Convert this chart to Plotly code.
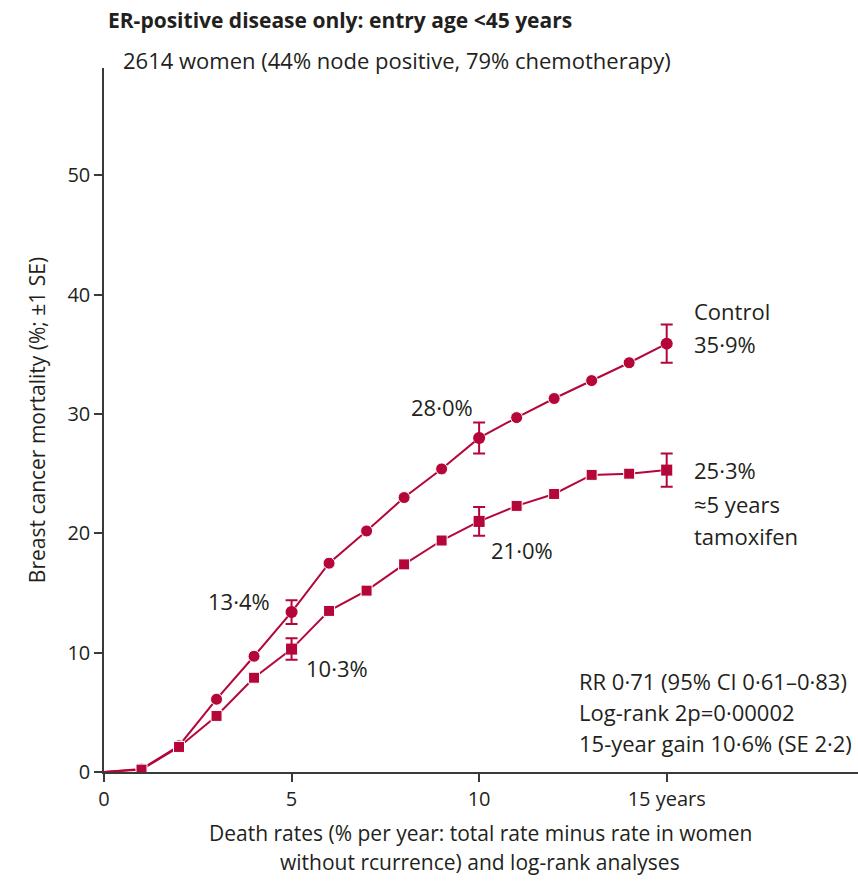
import plotly.graph_objects as go

# Cumulative breast cancer mortality (%) by year of follow-up
years = list(range(0, 16))
control = [0, 0.25, 2.2, 6.1, 9.7, 13.4, 17.5, 20.2, 23.0, 25.4, 28.0, 29.7, 31.3, 32.8, 34.3, 35.9]
tamoxifen = [0, 0.2, 2.1, 4.7, 7.9, 10.3, 13.5, 15.2, 17.4, 19.4, 21.0, 22.3, 23.3, 24.9, 25.0, 25.3]

# ±1 SE shown at 5, 10 and 15 years
se_years = [5, 10, 15]
control_se = [1.0, 1.3, 1.6]
tamoxifen_se = [0.9, 1.2, 1.4]

x_ticks = [0, 5, 10, 15]
x_tick_labels = ["0", "5", "10", "15 years"]
y_ticks = [0, 10, 20, 30, 40, 50]

RED = "#b5063a"
INK = "#231f20"
FONT = "Open Sans, Lato, sans-serif"
FS_TICK = 20
FS_NOTE = 22

fig = go.Figure()

def add_series(values, se, symbol, size):
    fig.add_trace(go.Scatter(
        x=years, y=values, mode="lines+markers",
        line=dict(color=RED, width=2),
        marker=dict(symbol=symbol, color=RED, opacity=1,
                    size=[0] + [size] * (len(years) - 1)),
        showlegend=False, hoverinfo="skip",
    ))
    fig.add_trace(go.Scatter(
        x=se_years, y=[values[years.index(y)] for y in se_years], mode="markers",
        marker=dict(symbol=symbol, color=RED, size=size, opacity=1),
        error_y=dict(type="data", array=se, color=RED, thickness=2, width=6),
        showlegend=False, hoverinfo="skip",
    ))

add_series(control, control_se, "circle", 12)
add_series(tamoxifen, tamoxifen_se, "square", 11)

def note(x, y, text, anchor="center"):
    fig.add_annotation(x=x, y=y, xref="x", yref="y", text=text, showarrow=False,
                       xanchor=anchor, yanchor="middle",
                       font=dict(family=FONT, size=FS_NOTE, color=INK))

note(3.6, 14.3, "13·4%")
note(6.2, 8.7, "10·3%")
note(9.0, 30.6, "28·0%")
note(11.15, 18.6, "21·0%")
note(15.68, 38.6, "Control", "left")
note(15.68, 35.9, "35·9%", "left")
note(15.68, 25.3, "25·3%", "left")
note(15.68, 22.5, "≈5 years", "left")
note(15.68, 19.8, "tamoxifen", "left")
note(12.6, 7.6, "RR 0·71 (95% CI 0·61–0·83)", "left")
note(12.6, 5.0, "Log-rank 2p=0·00002", "left")
note(12.6, 2.4, "15-year gain 10·6% (SE 2·2)", "left")

# Heading lines above the plot
fig.add_annotation(xref="paper", yref="paper", x=0.0027, y=1.0, yshift=48,
                   text="<b>ER-positive disease only: entry age <45 years</b>",
                   showarrow=False, xanchor="left", yanchor="middle",
                   font=dict(family=FONT, size=21, color=INK))
fig.add_annotation(xref="paper", yref="paper", x=0.022, y=1.0, yshift=8,
                   text="2614 women (44% node positive, 79% chemotherapy)",
                   showarrow=False, xanchor="left", yanchor="middle",
                   font=dict(family=FONT, size=FS_NOTE, color=INK))

# Two-line x-axis caption
for line_text, shift in [("Death rates (% per year: total rate minus rate in women", -61),
                         ("without rcurrence) and log-rank analyses", -90)]:
    fig.add_annotation(xref="x", yref="paper", x=10.03, y=0, yshift=shift,
                       text=line_text, showarrow=False, xanchor="center", yanchor="middle",
                       font=dict(family=FONT, size=21, color=INK))

axis_common = dict(showline=True, linecolor="#3a3a3a", linewidth=1.5, ticks="outside",
                   tickcolor="#3a3a3a", ticklen=8, tickwidth=1.5, showgrid=False,
                   zeroline=False, tickfont=dict(family=FONT, size=FS_TICK, color=INK))

fig.update_xaxes(range=[0, 20.1], tickvals=x_ticks, ticktext=x_tick_labels, **axis_common)
fig.update_yaxes(range=[0, 59], tickvals=y_ticks,
                 title=dict(text="Breast cancer mortality (%; ±1 SE)",
                            font=dict(family=FONT, size=21, color=INK), standoff=16),
                 **axis_common)

fig.update_layout(width=858, height=881, margin=dict(l=104, r=0, t=68, b=109),
                  plot_bgcolor="white", paper_bgcolor="white")

fig.write_html("out.html")
